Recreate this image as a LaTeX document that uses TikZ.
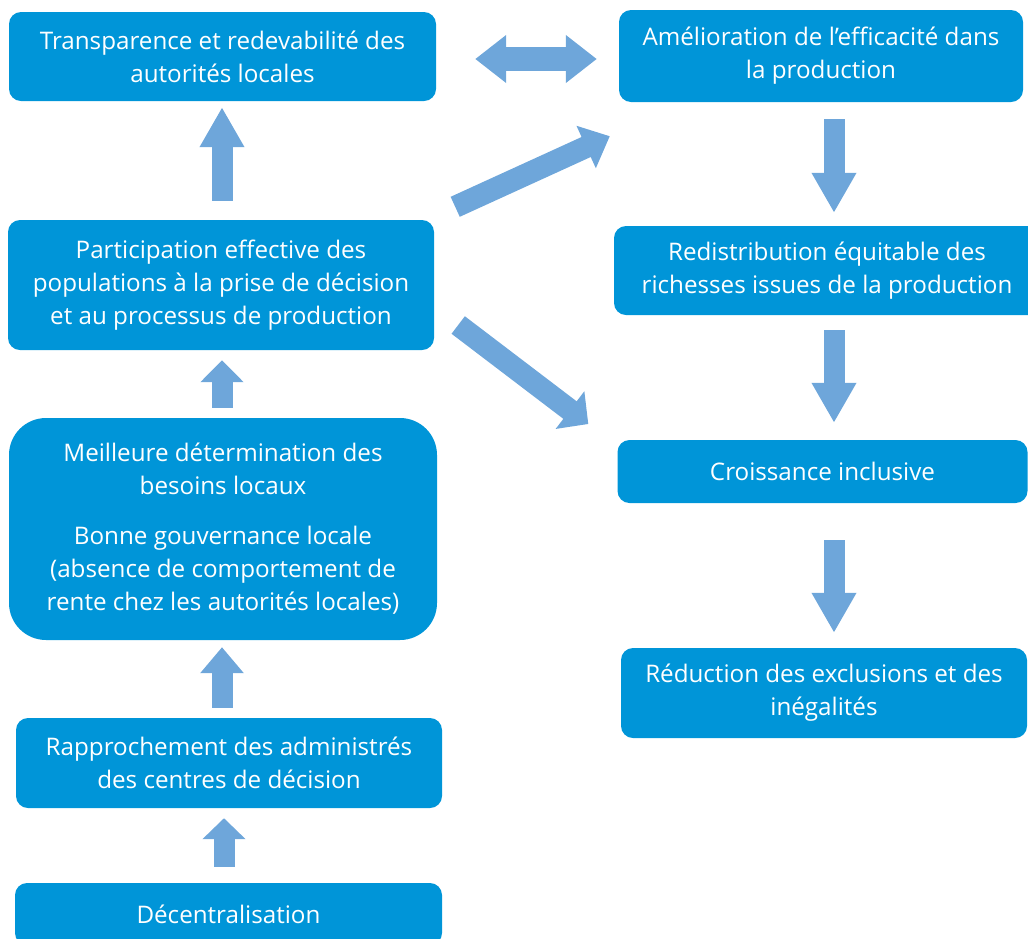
\documentclass[tikz,border=0pt]{standalone}
\usepackage{fontspec}
\setmainfont{Open Sans}
\usetikzlibrary{arrows.meta,calc}
\definecolor{boxblue}{RGB}{0,149,216}
\definecolor{arrblue}{RGB}{110,166,218}
\begin{document}
\begin{tikzpicture}[x=1pt,y=-1pt,
  box/.style={fill=boxblue, rounded corners=12pt, text=white, align=center,
    inner sep=0pt, font=\fontsize{24.2}{33}\selectfont},
  barrow/.style={draw=arrblue, line width=21pt},
  ]
\useasboundingbox (0,0) rectangle (1028,938);
\clip (0,0) rectangle (1028,938);
% left column
\node[box, minimum width=427pt, minimum height=89pt] (transp) at (222.5,56.5)
  {Transparence et redevabilité des\\autorités locales};
\node[box, minimum width=426pt, minimum height=130pt] (part) at (221,285)
  {Participation effective des\\populations à la prise de décision\\et au processus de production};
\node[box, rounded corners=37pt, minimum width=428pt, minimum height=222pt] (meil) at (223,529)
  {Meilleure détermination des\\besoins locaux\\[17pt]Bonne gouvernance locale\\(absence de comportement de\\rente chez les autorités locales)};
\node[box, minimum width=426pt, minimum height=90pt] (rapp) at (229,763)
  {Rapprochement des administrés\\des centres de décision};
\node[box, minimum width=427pt, minimum height=62pt] (dec) at (228.5,914)
  {Décentralisation};
% right column
\node[box, minimum width=404pt, minimum height=92pt] (amel) at (821,56)
  {Amélioration de l’efficacité dans\\la production};
\node[box, minimum width=426pt, minimum height=89pt] (redis) at (827,270.5)
  {Redistribution équitable des\\richesses issues de la production};
\node[box, minimum width=410pt, minimum height=63pt] (crois) at (822.5,471.5)
  {Croissance inclusive};
\node[box, minimum width=406pt, minimum height=90pt] (reduc) at (824,693)
  {Réduction des exclusions et des\\inégalités};
% connector ends
\coordinate (a1s) at ($(part.north)+(1,-19)$);
\coordinate (a1e) at ($(transp.south)+(-0.5,6)$);
\coordinate (a2s) at ($(meil.north)+(-1,-10)$);
\coordinate (a2e) at ($(part.south)+(1,10)$);
\coordinate (a3s) at ($(rapp.north)+(-7,-10)$);
\coordinate (a3e) at ($(meil.south)+(-1,7)$);
\coordinate (a4s) at ($(dec.north)+(-4.5,-16)$);
\coordinate (a4e) at ($(rapp.south)+(-5,10)$);
\coordinate (d1s) at ($(amel.south)+(13,17)$);
\coordinate (d1e) at ($(redis.north)+(7,-13)$);
\coordinate (d2s) at ($(redis.south)+(7,15)$);
\coordinate (d2e) at ($(crois.north)+(11.5,-17)$);
\coordinate (d3s) at ($(crois.south)+(11.5,37)$);
\coordinate (d3e) at ($(reduc.north)+(10,-15)$);
\coordinate (g1s) at ($(part.north east)+(21,-13)$);
\coordinate (g1e) at ($(amel.south west)+(-9,34)$);
\coordinate (g2s) at ($(part.east)+(24,40)$);
\coordinate (g2e) at ($(crois.west)+(-29,-47.5)$);
\coordinate (hl) at ($(transp.east)+(39,2.5)$);
\coordinate (hr) at ($(amel.west)+(-22,3)$);
% arrows
\draw[barrow, -{Triangle[length=40pt,width=42pt]}] (a1s) -- (a1e);
\draw[barrow, -{Triangle[length=22pt,width=42pt]}] (a2s) -- (a2e);
\draw[barrow, -{Triangle[length=26pt,width=42pt]}] (a3s) -- (a3e);
\draw[barrow, -{Triangle[length=21pt,width=42pt]}] (a4s) -- (a4e);
\draw[barrow, -{Triangle[length=40pt,width=42pt]}] (d1s) -- (d1e);
\draw[barrow, -{Triangle[length=40pt,width=42pt]}] (d2s) -- (d2e);
\draw[barrow, -{Triangle[length=40pt,width=42pt]}] (d3s) -- (d3e);
\draw[barrow, line width=22pt, -{Triangle[length=26pt,width=45pt]}] (g1s) -- (g1e);
\draw[barrow, line width=22pt, -{Triangle[length=23pt,width=46pt]}] (g2s) -- (g2e);
\draw[barrow, line width=24pt, {Triangle[length=31pt,width=46pt]}-{Triangle[length=31pt,width=46pt]}] (hl) -- (hr);
\end{tikzpicture}
\end{document}
